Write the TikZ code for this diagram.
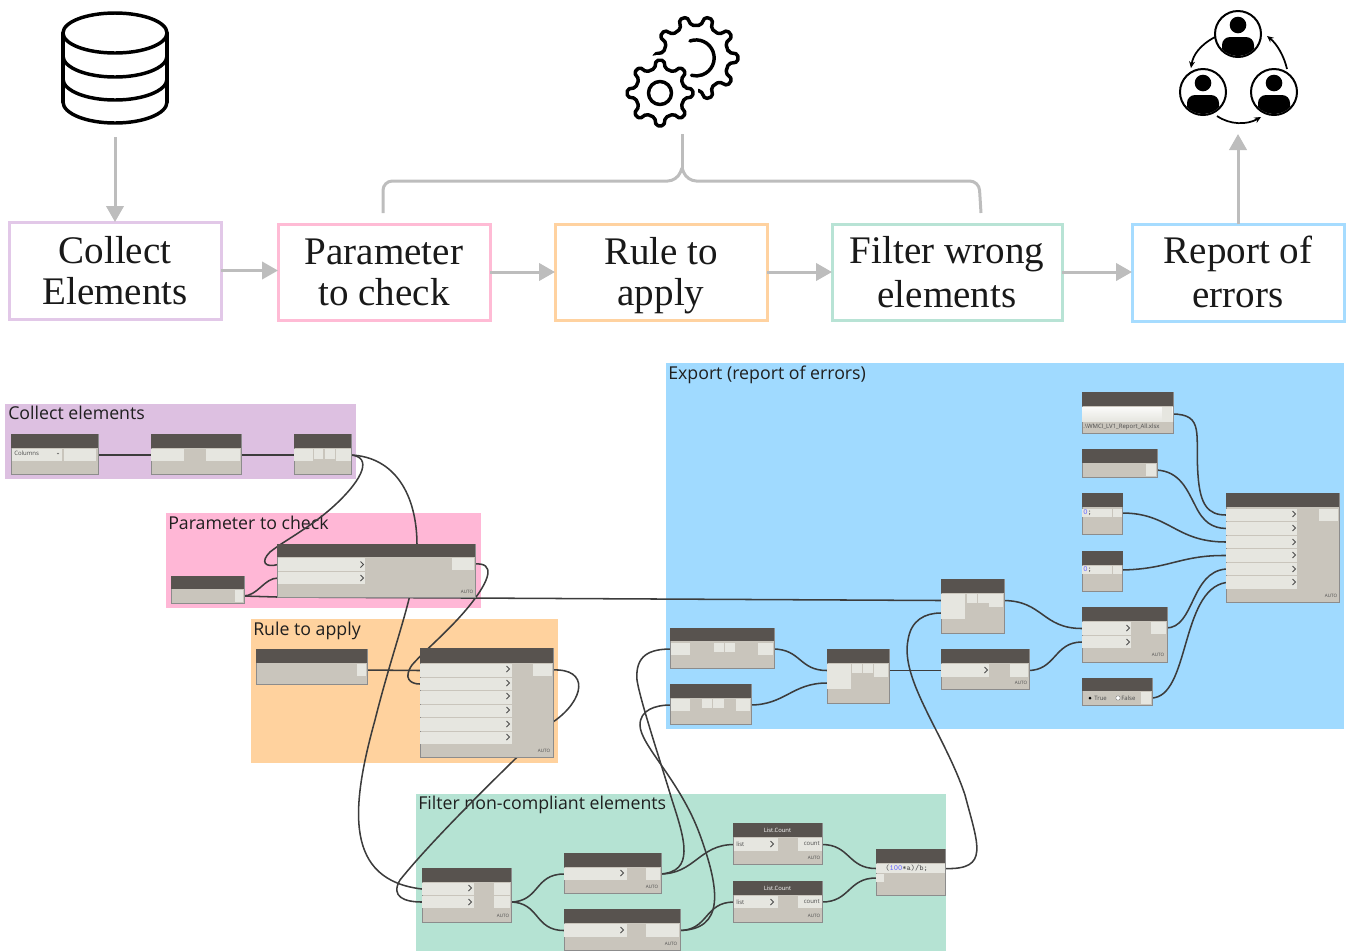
\documentclass[tikz,border=0pt]{standalone}
\usepackage{fontspec}
\setmainfont{Liberation Serif}
\newfontfamily\uifont{Open Sans}
\usetikzlibrary{arrows.meta,calc}
\definecolor{hdr}{HTML}{58534F}
\definecolor{bodyc}{HTML}{C9C5BC}
\definecolor{portc}{HTML}{E6E6E0}
\definecolor{wirec}{HTML}{3C3C3C}
\definecolor{arrowc}{HTML}{BDBDBD}
\definecolor{pPurple}{HTML}{DDC0E1}
\definecolor{pPink}{HTML}{FFB7D6}
\definecolor{pOrange}{HTML}{FFD29E}
\definecolor{pBlue}{HTML}{A0DAFF}
\definecolor{pGreen}{HTML}{B5E3D3}
\definecolor{bPurple}{HTML}{E2C8E8}
\definecolor{bPink}{HTML}{FFBBD5}
\definecolor{bOrange}{HTML}{FFD2A0}
\definecolor{bGreen}{HTML}{B8E3D5}
\definecolor{bBlue}{HTML}{A6DCFF}
\pgfdeclarelayer{panels}
\pgfdeclarelayer{wires}
\pgfsetlayers{panels,wires,main}
\newcommand{\lstrut}{\rule[-.18\baselineskip]{0pt}{\baselineskip}}
\tikzset{
  box/.style={draw,line width=2.25pt,fill=white,inner sep=0pt,outer sep=0pt,anchor=north west,align=center,text=black!90,
    font=\fontsize{29.3}{31}\selectfont},
  flow/.style={draw=arrowc,line width=2.25pt,-{Triangle[length=12pt,width=13pt]},shorten >=0pt},
  brace/.style={draw=arrowc,line width=2.25pt,rounded corners=7pt},
  panel/.style={inner sep=0pt,outer sep=0pt,anchor=north west},
  plabel/.style={anchor=base west,inner sep=0pt,text=black!88,font=\uifont\fontsize{13.3}{15}\selectfont},
  dynb/.style={fill=bodyc,draw=black!45,line width=.4pt,inner sep=0pt,outer sep=0pt,anchor=north west},
  dynh/.style={fill=hdr,inner sep=0pt,outer sep=0pt,anchor=north west,text=white,font=\uifont\fontsize{4.4}{5}\selectfont},
  portb/.style={fill=portc,inner sep=0pt,outer sep=0pt,anchor=north west},
  wire/.style={draw=wirec,line width=1.15pt,line cap=round},
  tiny/.style={inner sep=0pt,font=\uifont\fontsize{3.4}{4}\selectfont,text=black!70},
  small/.style={inner sep=0pt,font=\uifont\fontsize{4.5}{5}\selectfont,text=black!70},
  code/.style={inner sep=0pt,anchor=west,font=\ttfamily\fontsize{6}{7}\selectfont,text=black!70},
  icon/.style={draw=black,line width=2.6pt,line join=round,line cap=round},
  gearline/.style={draw=black,line width=2.6pt,line join=round,rounded corners=1.5pt},
  cyc/.style={draw=black,line width=1.3pt,-{Stealth[length=5pt,width=4.5pt]}}
}
\newcommand{\dynnode}[7][]{%
  \node[dynb,minimum width={(#4-#2)*0.75pt},minimum height={(#5-#3)*0.75pt}] (#1) at (#2,#3) {};
  \node[dynh,minimum width={(#4-#2)*0.75pt},minimum height={(#6-#3)*0.75pt}] (#1h) at (#2,#3) {#7};}
\newcommand{\portnode}[5]{%
  \node[portb,minimum width={(#4-#2)*0.75pt},minimum height={(#5-#3)*0.75pt}] (#1) at (#2,#3) {};}
\newcommand{\chev}[2]{\draw[black!70,line width=.7pt] (#1-1.5,#2-3) -- (#1+1.5,#2) -- (#1-1.5,#2+3);}
\newcommand{\autotag}[3]{\node[tiny] (#1) at (#2,#3) {AUTO};}
\newcommand{\gearshape}[5]{%
  \draw[gearline] ({#1+#4*cos(-0.27*360/#5)},{#2+#4*sin(-0.27*360/#5)})
  \foreach \i in {0,...,\numexpr#5-1\relax}{
    -- ({#1+#3*cos((\i-0.15)*360/#5)},{#2+#3*sin((\i-0.15)*360/#5)})
    -- ({#1+#3*cos((\i+0.15)*360/#5)},{#2+#3*sin((\i+0.15)*360/#5)})
    -- ({#1+#4*cos((\i+0.27)*360/#5)},{#2+#4*sin((\i+0.27)*360/#5)})
    -- ({#1+#4*cos((\i+0.73)*360/#5)},{#2+#4*sin((\i+0.73)*360/#5)})
  } -- cycle;}
\newcommand{\person}[3]{%
  \node[circle,draw=black,line width=1.5pt,fill=white,minimum size=34.5pt,inner sep=0pt,outer sep=0pt] (#1) at (#2,#3) {};
  \begin{scope}
    \clip (#2,#3) circle[radius=22];
    \fill[black] (#2,#3-9) circle[radius=8.3];
    \fill[black,rounded corners=6pt] (#2-16,#3+26) rectangle (#2+16,#3+3);
  \end{scope}}
\begin{document}
\begin{tikzpicture}[x=0.75pt,y=-0.75pt]
\useasboundingbox (0,0) rectangle (1349,951);

% ---------- top row boxes
\node[box,draw=bPurple,minimum width={212*0.75pt},minimum height={97*0.75pt}] (b1) at (9,222) {\lstrut Collect\\\lstrut Elements};
\node[box,draw=bPink,minimum width={212*0.75pt},minimum height={96*0.75pt}] (b2) at (278,224) {\lstrut Parameter\\\lstrut to check};
\node[box,draw=bOrange,minimum width={212*0.75pt},minimum height={96*0.75pt}] (b3) at (555,224) {\lstrut Rule to\\\lstrut apply};
\node[box,draw=bGreen,minimum width={230*0.75pt},minimum height={96*0.75pt}] (b4) at (832,224) {\lstrut Filter wrong\\\lstrut elements};
\node[box,draw=bBlue,minimum width={212*0.75pt},minimum height={97*0.75pt}] (b5) at (1132,224) {\lstrut Report of\\\lstrut errors};
\draw[flow] (b1.east) -- (b1.east -| b2.west);
\draw[flow] (b2.east) -- (b3.west);
\draw[flow] (b3.east) -- (b4.west);
\draw[flow] (b4.east) -- (b4.east -| b5.west);

% free ends of the grey connectors
\coordinate (dbfoot) at (115,137);
\coordinate (peoplefoot) at (1238,134);
\coordinate (gearfoot) at (682,134);
\coordinate (braceL) at (383,213);
\coordinate (braceR) at (981,213);
\draw[flow] (dbfoot) -- (b1.north -| dbfoot);
\draw[flow] (b5.north -| peoplefoot) -- (peoplefoot);
\draw[brace] (braceL) -- (383,181) -- (677,181) -- (682,168);
\draw[brace] (braceR) -- (979,181) -- (687,181) -- (682,168);
\draw[draw=arrowc,line width=2.25pt] (682,170) -- (gearfoot);

% ---------- database icon
\draw[icon] (115,33) ellipse[x radius=52,y radius=20];
\draw[icon] (63,33) -- (63,102);
\draw[icon] (167,33) -- (167,102);
\draw[icon] (63,56) arc[start angle=180,end angle=0,x radius=52,y radius=21];
\draw[icon] (63,79) arc[start angle=180,end angle=0,x radius=52,y radius=21];
\draw[icon] (63,102) arc[start angle=180,end angle=0,x radius=52,y radius=21];

% ---------- gears icon
\gearshape{696}{58}{42}{33}{10}
\fill[white] (660,93) circle[radius=38];
\draw[icon] (690,41) arc[start angle=-110,end angle=105,radius=18];
\gearshape{660}{93}{33}{25}{8}
\draw[icon] (660,93) circle[radius=11.5];

% ---------- people icon
\person{pt}{1238}{34}
\person{pl}{1203}{92}
\person{pr}{1274}{92}
\draw[cyc] (1215,37) .. controls (1200,45) and (1193,55) .. (1191,68);
\draw[cyc] (1287,69) .. controls (1284,56) and (1277,44) .. (1267,36);
\draw[cyc] (1217,116) .. controls (1230,125) and (1247,125) .. (1261,117);

% ---------- coloured panels
\begin{pgfonlayer}{panels}
\node[panel,fill=pPurple,minimum width={351*0.75pt},minimum height={75*0.75pt}] (g1) at (5,404) {};
\node[panel,fill=pPink,minimum width={315*0.75pt},minimum height={95*0.75pt}] (g2) at (166,513) {};
\node[panel,fill=pOrange,minimum width={307*0.75pt},minimum height={144*0.75pt}] (g3) at (251,619) {};
\node[panel,fill=pBlue,minimum width={678*0.75pt},minimum height={366*0.75pt}] (g4) at (666,363) {};
\node[panel,fill=pGreen,minimum width={530*0.75pt},minimum height={157*0.75pt}] (g5) at (416,794) {};
\node[plabel] (l1) at (8,419) {Collect elements};
\node[plabel] (l2) at (168,529) {Parameter to check};
\node[plabel] (l3) at (253,635) {Rule to apply};
\node[plabel] (l4) at (668,379) {Export (report of errors)};
\node[plabel] (l5) at (418,809) {Filter non-compliant elements};
\end{pgfonlayer}

% ---------- Collect elements
\dynnode[n1]{11}{434}{98}{474}{448}{}
\portnode{n1a}{12}{449}{62}{461}
\portnode{n1o}{64}{449}{96}{461}
\node[small,anchor=west] (n1t) at (14,453.5) {Columns};
\draw[black!60,line width=.4pt] (57,453) -- (58,454) -- (59,453);
\dynnode[n2]{151}{434}{241}{474}{448}{}
\portnode{n2i}{151}{449}{184}{461}
\portnode{n2o}{206}{449}{240}{461}
\dynnode[n3]{294}{434}{351}{474}{448}{}
\portnode{n3i}{294}{449}{313}{461}
\portnode{n3b}{314}{449}{323}{459}
\portnode{n3c}{325}{449}{335}{459}
\portnode{n3o}{336}{449}{351}{461}

% ---------- Parameter to check
\dynnode[n4]{171}{576}{244}{603}{589}{}
\portnode{n4o}{235}{590}{243}{602}
\dynnode[n5]{277}{544}{475}{597}{557}{}
\portnode{n5a}{278}{558}{365}{571}
\portnode{n5b}{278}{572}{365}{584}
\portnode{n5o}{452}{558}{474}{570}
\chev{362}{564.5}\chev{362}{578}
\autotag{n5t}{467}{592}

% ---------- Rule to apply
\dynnode[n6]{256}{649}{367}{684}{663}{}
\portnode{n6o}{357}{664}{366}{676}
\dynnode[n7]{420}{648}{553}{757}{663}{}
\portnode{n7a}{420}{664}{512}{677}
\portnode{n7b}{420}{678}{512}{690}
\portnode{n7c}{420}{691}{512}{704}
\portnode{n7d}{420}{705}{512}{717}
\portnode{n7e}{420}{718}{512}{731}
\portnode{n7f}{420}{732}{512}{744}
\portnode{n7o}{533}{664}{552}{676}
\chev{508}{669}\chev{508}{683}\chev{508}{696}\chev{508}{710}\chev{508}{724}\chev{508}{737}
\autotag{n7t}{544}{751}

% ---------- Filter
\dynnode[n8]{422}{868}{511}{922}{882}{}
\portnode{n8a}{422}{883}{474}{895}
\portnode{n8b}{422}{896}{474}{908}
\portnode{n8o}{494}{883}{510}{895}
\portnode{n8p}{494}{896}{510}{908}
\chev{470}{888}\chev{470}{902}
\autotag{n8t}{503}{916}
\dynnode[n9]{564}{853}{661}{893}{867}{}
\portnode{n9i}{564}{868}{627}{880}
\portnode{n9o}{646}{868}{660}{880}
\chev{622}{873}
\autotag{n9t}{652}{887}
\dynnode[n10]{564}{909}{680}{950}{923}{}
\portnode{n10i}{564}{924}{627}{937}
\portnode{n10o}{646}{924}{679}{937}
\chev{622}{930}
\autotag{n10t}{671}{944}
\dynnode[n11]{733}{823}{822}{864}{837}{List.Count}
\portnode{n11i}{734}{838}{778}{851}
\portnode{n11o}{798}{838}{822}{851}
\node[small,anchor=west] (n11a) at (736,844) {list};
\node[small,anchor=east] (n11b) at (820,844) {count};
\chev{772}{844}
\autotag{n11t}{814}{858}
\dynnode[n12]{733}{881}{822}{922}{895}{List.Count}
\portnode{n12i}{734}{896}{778}{908}
\portnode{n12o}{798}{896}{822}{908}
\node[small,anchor=west] (n12a) at (736,902) {list};
\node[small,anchor=east] (n12b) at (820,902) {count};
\chev{772}{902}
\autotag{n12t}{814}{916}
\dynnode[n13]{876}{849}{945}{895}{863}{}
\portnode{n13a}{876}{864}{945}{873}
\portnode{n13b}{876}{874}{884}{882}
\node[code] (n13t) at (885,868.5) {(\textcolor{blue!60}{100}*a)/b;};

% ---------- Export
\dynnode[a1]{670}{628}{774}{668}{641}{}
\portnode{a1i}{671}{643}{690}{655}
\portnode{a1b}{714}{643}{724}{652}
\portnode{a1c}{725}{643}{735}{652}
\portnode{a1o}{758}{643}{773}{655}
\dynnode[a2]{670}{684}{751}{724}{698}{}
\portnode{a2i}{671}{699}{690}{711}
\portnode{a2b}{702}{699}{712}{708}
\portnode{a2c}{713}{699}{724}{708}
\portnode{a2o}{736}{699}{750}{711}
\dynnode[a3]{827}{649}{889}{703}{663}{}
\portnode{a3i}{827}{664}{851}{677}
\portnode{a3j}{827}{677}{851}{689}
\portnode{a3b}{852}{664}{862}{673}
\portnode{a3c}{863}{664}{873}{673}
\portnode{a3o}{874}{664}{888}{677}
\dynnode[a4]{941}{579}{1004}{633}{593}{}
\portnode{a4i}{941}{594}{965}{607}
\portnode{a4j}{941}{607}{965}{619}
\portnode{a4b}{967}{594}{977}{603}
\portnode{a4c}{978}{594}{989}{603}
\portnode{a4o}{989}{594}{1003}{607}
\dynnode[a5]{941}{649}{1029}{689}{663}{}
\portnode{a5i}{941}{664}{989}{677}
\portnode{a5o}{1010}{664}{1028}{677}
\chev{986}{670}
\autotag{a5t}{1021}{683}
\dynnode[a6]{1082}{607}{1167}{662}{621}{}
\portnode{a6a}{1082}{622}{1131}{635}
\portnode{a6b}{1082}{636}{1131}{648}
\portnode{a6o}{1151}{622}{1166}{634}
\chev{1128}{628}\chev{1128}{642}
\autotag{a6t}{1158}{655}
\dynnode[a7]{1082}{678}{1152}{705}{691}{}
\portnode{a7o}{1141}{692}{1151}{704}
\node[small,anchor=west] (a7t) at (1094,698.5) {True};
\node[small,anchor=west] (a7f) at (1121,698.5) {False};
\fill[black] (1090,698) circle[radius=1.5];
\draw[black!50,fill=white,line width=.3pt] (1118,698) circle[radius=2.2];
\dynnode[a8]{1082}{392}{1173}{433}{406}{}
\node[portb,minimum width={91*0.75pt},minimum height={14*0.75pt},top color=white!80!portc,bottom color=portc] (a8s) at (1082,407) {};
\portnode{a8o}{1162}{407}{1172}{421}
\node[small,anchor=west] (a8t) at (1083,427) {.\textbackslash WMCI\_LV1\_Report\_All.xlsx};
\dynnode[a9]{1082}{449}{1157}{477}{463}{}
\portnode{a9o}{1146}{464}{1156}{476}
\dynnode[a10]{1082}{493}{1122.5}{534}{507}{}
\portnode{a10a}{1082}{509}{1112}{517}
\portnode{a10o}{1113}{509}{1122}{517}
\node[code] (a10t) at (1083,512.5) {\textcolor{blue!60}{0};};
\dynnode[a11]{1082}{551}{1122.5}{591}{565}{}
\portnode{a11a}{1082}{566}{1112}{574}
\portnode{a11o}{1113}{566}{1122}{574}
\node[code] (a11t) at (1083,569.5) {\textcolor{blue!60}{0};};
\dynnode[a12]{1226}{493}{1339}{602}{507}{}
\portnode{c1}{1226}{509}{1297}{521}
\portnode{c2}{1226}{522}{1297}{535}
\portnode{c3}{1226}{536}{1297}{548}
\portnode{c4}{1226}{549}{1297}{562}
\portnode{c5}{1226}{563}{1297}{575}
\portnode{c6}{1226}{576}{1297}{589}
\portnode{a12o}{1319}{509}{1338}{521}
\chev{1294}{514}\chev{1294}{528}\chev{1294}{542}\chev{1294}{555}\chev{1294}{569}\chev{1294}{582}
\autotag{a12t}{1331}{596}

% ---------- wires
\begin{pgfonlayer}{wires}
\draw[wire] (n1o.east) -- (n2i.west);
\draw[wire] (n2o.east) -- (n3i.west);
\draw[wire] (n3o.east) .. controls (372,457) and (364,478) .. (335,505) .. controls (310,528) and (285,540) .. (270,552) .. controls (260,562) and (265,568) .. (n5a.west);
\draw[wire] (n3o.east) .. controls (395,457) and (417,495) .. (417,545) .. controls (417,590) and (395,640) .. (375,720) .. controls (350,810) and (345,880) .. (n8a.west);
\draw[wire] (n4o.east) .. controls +(15,0) and +(-14,0) .. (n5b.west);
\draw[wire] (n4o.east) -- (277,597) -- (a4i.west);
\draw[wire] (n5o.east) .. controls (496,562) and (490,580) .. (470,605) .. controls (450,630) and (425,650) .. (412,665) .. controls (403,678) and (410,684) .. (n7b.west);
\draw[wire] (n6o.east) -- (n7a.west);
\draw[wire] (n7o.east) .. controls (590,668) and (585,700) .. (553,722) .. controls (530,745) and (440,830) .. (400,880) .. controls (390,897) and (405,902) .. (n8b.west);
\draw[wire] (n8p.east) .. controls +(30,0) and +(-30,0) .. (n9i.west);
\draw[wire] (n8p.east) .. controls +(30,0) and +(-30,0) .. (n10i.west);
\draw[wire] (n9o.east) .. controls +(35,0) and +(-35,0) .. (n11i.west);
\draw[wire] (n10o.east) .. controls +(30,0) and +(-30,0) .. (n12i.west);
\draw[wire] (n11o.east) .. controls +(28,0) and +(-28,0) .. (n13a.west);
\draw[wire] (n12o.east) .. controls +(28,0) and +(-28,0) .. (n13b.west);
\draw[wire] (n9o.east) .. controls (695,872) and (685,840) .. (672,800) .. controls (660,760) and (640,700) .. (637,680) .. controls (635,655) and (650,649) .. (a1i.west);
\draw[wire] (n10o.east) .. controls (725,930) and (720,890) .. (700,835) .. controls (680,780) and (640,745) .. (640,725) .. controls (640,710) and (655,705) .. (a2i.west);
\draw[wire] (n13a.east) .. controls (990,870) and (978,845) .. (965,795) .. controls (945,735) and (900,680) .. (908,640) .. controls (911,620) and (925,613) .. (a4j.west);
\draw[wire] (a1o.east) .. controls +(28,0) and +(-28,0) .. (a3i.west);
\draw[wire] (a2o.east) .. controls +(35,0) and +(-35,0) .. (a3j.west);
\draw[wire] (a3o.east) -- (a5i.west);
\draw[wire] (a4o.east) .. controls +(40,0) and +(-40,0) .. (a6a.west);
\draw[wire] (a5o.east) .. controls +(28,0) and +(-28,0) .. (a6b.west);
\draw[wire] (a6o.east) .. controls (1195,628) and (1190,572) .. (c5.west);
\draw[wire] (a7o.east) .. controls (1190,698) and (1180,590) .. (c6.west);
\draw[wire] (a8o.east) .. controls (1205,414) and (1195,435) .. (1198,475) .. controls (1200,505) and (1208,515) .. (c1.west);
\draw[wire] (a9o.east) .. controls (1180,471) and (1187,490) .. (1195,505) .. controls (1203,522) and (1212,528) .. (c2.west);
\draw[wire] (a10o.east) .. controls (1170,513) and (1175,542) .. (c3.west);
\draw[wire] (a11o.east) .. controls (1170,569) and (1180,555) .. (c4.west);
\end{pgfonlayer}
\end{tikzpicture}
\end{document}
